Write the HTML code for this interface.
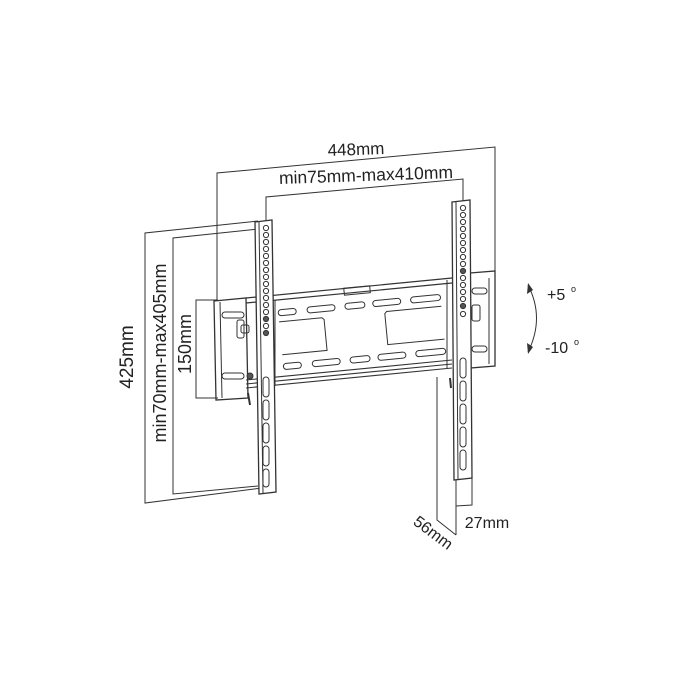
<!DOCTYPE html>
<html><head><meta charset="utf-8"><style>
html,body{margin:0;padding:0;background:#fff;}
svg{display:block}
text{font-family:"Liberation Sans","DejaVu Sans",sans-serif;fill:#222;}
</style></head><body>
<svg width="700" height="700" viewBox="0 0 700 700" xmlns="http://www.w3.org/2000/svg">
<g fill="none" stroke="#333" stroke-width="1">
<polyline points="217,300 217,173 495,147 495,272"/>
<polyline points="266,222 266,197 463,179 463,202"/>
<polyline points="258,221 145,233 145,503 262,488"/>
<polyline points="258,229 173,238 173,494 258,486"/>
<polyline points="218,300 196,300 196,398 218,398"/>

<path d="M214,301 L246,298 L248,398 L216,400 Z" stroke-width="1.3"/>
<line x1="220" y1="302" x2="222" y2="398"/>
<rect x="222" y="312" width="22" height="6" rx="3"/>
<rect x="222" y="373" width="22" height="6" rx="3"/>
<rect x="237" y="320" width="7" height="18" rx="2"/>
<rect x="241" y="325" width="8" height="8" rx="2"/>
<path d="M470,273 L495,271 L495,366 L470,368 Z" stroke-width="1.3"/>
<line x1="489" y1="278" x2="489" y2="364"/>
<rect x="472" y="288" width="15" height="6" rx="3"/>
<rect x="472" y="346" width="15" height="6" rx="3"/>
<rect x="472" y="305" width="8" height="16" rx="2"/>

<path d="M246,298 L452,278 M246,303 L452,283" stroke-width="1.2"/>
<path d="M246,380 L452,360 M246,384 L452,364 M246,388 L452,368" stroke-width="1.1"/>
<path d="M275,300 L275,386 M447,280 L447,368"/>
<rect x="344" y="287" width="26" height="7" transform="rotate(-5.5 357 290)"/>
<g transform="translate(0,-9) rotate(-5.5 360 305)">
<rect x="277" y="311" width="18" height="6" rx="3"/>
<rect x="306" y="311" width="28" height="6" rx="3"/>
<rect x="344" y="311" width="20" height="6" rx="3"/>
<rect x="372" y="311" width="28" height="6" rx="3"/>
<rect x="410" y="311" width="30" height="6" rx="3"/>
<rect x="277" y="365" width="18" height="6" rx="3"/>
<rect x="306" y="365" width="28" height="6" rx="3"/>
<rect x="344" y="365" width="20" height="6" rx="3"/>
<rect x="372" y="365" width="28" height="6" rx="3"/>
<rect x="410" y="365" width="30" height="6" rx="3"/>
<path d="M277,323 L320,323 L322,325 L322,356 L277,356"/>
<path d="M440,323 L385,323 L383,325 L383,356 L440,356"/>
</g>

<path d="M255,222 L272,220 L276,492 L259,494 Z" fill="#fff" stroke-width="1.3"/>
<line x1="259" y1="222" x2="263" y2="493"/>
<path d="M452,202 L470,200 L472,478 L454,480 Z" fill="#fff" stroke-width="1.3"/>
<line x1="456" y1="202" x2="458" y2="479"/>
<path d="M456,480 L456,535 M472,478 L472,505 L456,506"/>
<polyline points="437,377 437,520 456,535"/>
</g>

<g fill="none" stroke="#333" stroke-width="1">
<circle cx="266" cy="228" r="2.6"/><circle cx="266" cy="235" r="2.6"/><circle cx="266" cy="242" r="2.6"/>
<circle cx="266" cy="249" r="2.6"/><circle cx="266" cy="256" r="2.6"/><circle cx="266" cy="263" r="2.6"/>
<circle cx="266" cy="270" r="2.6"/><circle cx="266" cy="277" r="2.6"/><circle cx="266" cy="284" r="2.6"/>
<circle cx="266" cy="291" r="2.6"/><circle cx="266" cy="298" r="2.6"/><circle cx="266" cy="305" r="2.6"/>
<circle cx="266" cy="312" r="2.6"/><circle cx="266" cy="319" r="2.6" fill="#555"/><circle cx="266" cy="326" r="2.6"/>
<circle cx="266" cy="333" r="2.6" fill="#555"/>
<circle cx="463" cy="208" r="2.6"/><circle cx="463" cy="215" r="2.6"/><circle cx="463" cy="222" r="2.6"/>
<circle cx="463" cy="229" r="2.6"/><circle cx="463" cy="236" r="2.6"/><circle cx="463" cy="243" r="2.6"/>
<circle cx="463" cy="250" r="2.6"/><circle cx="463" cy="257" r="2.6"/><circle cx="463" cy="264" r="2.6"/>
<circle cx="463" cy="271" r="2.6" fill="#555"/><circle cx="463" cy="278" r="2.6"/><circle cx="463" cy="285" r="2.6"/>
<circle cx="463" cy="292" r="2.6"/><circle cx="463" cy="299" r="2.6"/><circle cx="463" cy="306" r="2.6" fill="#555"/>
<circle cx="463" cy="314" r="2.6"/>
<rect x="263" y="377" width="6" height="20" rx="3"/><rect x="263" y="400" width="6" height="20" rx="3"/>
<rect x="263" y="423" width="6" height="20" rx="3"/><rect x="263" y="446" width="6" height="20" rx="3"/>
<rect x="263" y="469" width="6" height="18" rx="3"/>
<rect x="460" y="358" width="6" height="20" rx="3"/><rect x="460" y="381" width="6" height="20" rx="3"/>
<rect x="460" y="404" width="6" height="20" rx="3"/><rect x="460" y="427" width="6" height="20" rx="3"/>
<rect x="460" y="450" width="6" height="20" rx="3"/>
<circle cx="250" cy="376" r="3" fill="#555"/>
<path d="M248,393 L250,405" stroke-width="2"/>
<path d="M450,378 L451,388" stroke-width="2"/>
</g>

<path d="M528,285 Q545,318 528,352" fill="none" stroke="#333" stroke-width="1"/>
<path d="M528,283 L527,294 L533,290 Z M528,354 L527,343 L533,347 Z" fill="#333"/>

<text x="356" y="155" font-size="17" text-anchor="middle" transform="rotate(-2 356 150)">448mm</text>
<text x="366" y="181" font-size="17.5" text-anchor="middle" transform="rotate(-2 366 176)">min75mm-max410mm</text>
<text x="0" y="0" font-size="19" text-anchor="middle" transform="translate(133,357) rotate(-90)">425mm</text>
<text x="0" y="0" font-size="18" text-anchor="middle" transform="translate(166,353) rotate(-90)">min70mm-max405mm</text>
<text x="0" y="0" font-size="18" text-anchor="middle" transform="translate(191,344) rotate(-90)">150mm</text>
<text x="0" y="0" font-size="16" text-anchor="middle" transform="translate(430,537) rotate(37)">56mm</text>
<text x="487" y="528" font-size="16" text-anchor="middle">27mm</text>
<text x="547" y="300" font-size="16">+5</text>
<text x="571" y="292" font-size="9">o</text>
<text x="545" y="353" font-size="16">-10</text>
<text x="574" y="345" font-size="9">o</text>
</svg>
</body></html>
